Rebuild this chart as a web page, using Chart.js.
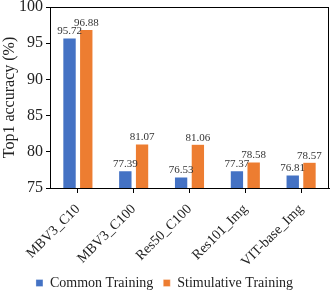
<!DOCTYPE html>
<html><head><meta charset="utf-8">
<script src="https://cdn.jsdelivr.net/npm/chart.js@4.4.0/dist/chart.umd.min.js"></script>
<style>html,body{margin:0;padding:0;background:#fff}#wrap{width:333px;height:292px}</style>
</head><body><div id="wrap"><canvas id="c" width="333" height="292"></canvas></div>
<script>
const categories = ["MBV3_C10","MBV3_C100","Res50_C100","Res101_Img","VIT-base_Img"];
const commonTraining = [95.72,77.39,76.53,77.37,76.81];
const stimulativeTraining = [96.88,81.07,81.06,78.58,78.57];
const yTicks = [75,80,85,90,95,100];

const FONT = "'Liberation Serif','Times New Roman',serif";

const frame = {
  id:'frame',
  afterDraw(chart){
    const {ctx, chartArea:a} = chart;
    ctx.save();
    ctx.strokeStyle = '#000'; ctx.lineWidth = 1;
    ctx.strokeRect(Math.round(a.left)+0.5, Math.round(a.top)+0.5, Math.round(a.right-a.left)-1, Math.round(a.bottom-a.top));
    ctx.restore();
  }
};
const labels = {
  id:'labels',
  afterDatasetsDraw(chart){
    const ctx = chart.ctx;
    ctx.save();
    ctx.font = "11px " + FONT;
    ctx.fillStyle = '#333';
    ctx.textAlign = 'center';
    ctx.textBaseline = 'bottom';
    chart.data.datasets.forEach((ds,i)=>{
      chart.getDatasetMeta(i).data.forEach((bar,j)=>{
        ctx.fillText(ds.data[j].toFixed(2), bar.x, bar.y - 1);
      });
    });
    ctx.restore();
  }
};

new Chart(document.getElementById('c'), {
  type:'bar',
  data:{
    labels: categories,
    datasets:[
      {label:'Common Training', data: commonTraining, backgroundColor:'#4472C4', borderColor:'rgba(255,255,255,0.6)', borderWidth:0.5, categoryPercentage:0.6, barPercentage:0.8},
      {label:'Stimulative Training', data: stimulativeTraining, backgroundColor:'#ED7D31', borderColor:'rgba(255,255,255,0.6)', borderWidth:0.5, categoryPercentage:0.6, barPercentage:0.8}
    ]
  },
  options:{
    responsive:false, animation:false,
    layout:{padding:{left:0,right:4,top:0,bottom:-8}},
    plugins:{
      legend:{position:'bottom', labels:{boxWidth:7, boxHeight:7, padding:10, color:'#222', font:{family:FONT, size:14}}},
      tooltip:{enabled:false}
    },
    scales:{
      x:{
        afterFit(s){ s.height = 78; },
        grid:{offset:false, drawOnChartArea:false, tickLength:5, color:'#000'},
        border:{color:'#000'},
        ticks:{minRotation:45, maxRotation:45, color:'#222', font:{family:FONT, size:14}, padding:8}
      },
      y:{
        min:75, max:100,
        afterFit(s){ s.width = 50; s.paddingTop = 7; },
        afterBuildTicks(s){ s.ticks = yTicks.map(v=>({value:v})); },
        grid:{drawOnChartArea:false, tickLength:4, color:'#000'},
        border:{color:'#000'},
        ticks:{color:'#222', font:{family:FONT, size:16}, padding:3},
        title:{display:true, text:'Top1 accuracy (%)', color:'#222', font:{family:FONT, size:16}, padding:{top:0,bottom:0}}
      }
    }
  },
  plugins:[frame, labels]
});
</script></body></html>
